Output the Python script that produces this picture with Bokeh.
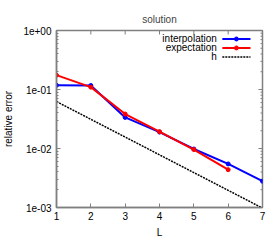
import math
from bokeh.plotting import figure
from bokeh.models import FixedTicker
from bokeh.core.properties import value
from bokeh.embed import file_html
from bokeh.resources import INLINE

L = [1, 2, 3, 4, 5, 6, 7]
interpolation = [0.118, 0.117, 0.0336, 0.0190, 0.0098, 0.00548, 0.00279]
L_exp = [1, 2, 3, 4, 5, 6]
expectation = [0.175, 0.1096, 0.0384, 0.0193, 0.0096, 0.00438]
h = [0.0625, 0.03125, 0.015625, 0.0078125, 0.00390625, 0.001953125, 0.0009765625]

y_major = [1e-3, 1e-2, 1e-1, 1.0]
y_labels = ["1e-03", "1e-02", "1e-01", "1e+00"]
y_minor = [m * d for d in [1e-3, 1e-2, 1e-1] for m in range(2, 10)]
x_ticks = [1, 2, 3, 4, 5, 6, 7]

legend_names = ["interpolation", "expectation", "h"]
legend_colors = ["#0000ff", "#ff0000", "#000000"]

FONT = "Liberation Sans"
GRAY = "#808080"

p = figure(width=280, height=240, x_range=(1, 7), y_range=(1e-3, 1.0),
           y_axis_type="log", output_backend="svg", toolbar_location=None,
           title="solution", min_border_left=55, min_border_right=18,
           min_border_top=30, min_border_bottom=32)
p.title.align = "center"
p.title.vertical_align = "middle"
p.title.text_font = FONT
p.title.text_font_size = "10px"
p.title.text_font_style = "normal"
p.title.standoff = 10
p.title.offset = 0
p.grid.visible = False
p.outline_line_color = GRAY
p.outline_line_width = 1.5
p.background_fill_color = "white"

ylabels = {t: s for t, s in zip(y_major, y_labels)}

def style_axis(ax):
    ax.axis_line_color = GRAY
    ax.axis_line_width = 1.5
    ax.major_tick_in = 4
    ax.major_tick_out = 0
    ax.minor_tick_in = 2
    ax.minor_tick_out = 0
    ax.major_tick_line_color = GRAY
    ax.minor_tick_line_color = GRAY
    ax.major_label_text_font = FONT
    ax.major_label_text_font_size = "10px"
    ax.major_label_text_color = "black"
    ax.major_label_standoff = 5
    ax.axis_label_text_font = FONT
    ax.axis_label_text_font_size = "10px"
    ax.axis_label_text_font_style = "normal"
    ax.axis_label_text_color = "black"

p.xaxis.ticker = FixedTicker(ticks=x_ticks, minor_ticks=[])
p.yaxis.ticker = FixedTicker(ticks=y_major, minor_ticks=y_minor)
p.yaxis.major_label_overrides = ylabels
p.xaxis.axis_label = "L"
p.yaxis.axis_label = "relative error"
style_axis(p.xaxis[0])
style_axis(p.yaxis[0])
p.xaxis.major_label_standoff = 4
p.xaxis.axis_label_standoff = 4
p.yaxis.axis_label_standoff = 6

# mirrored inward ticks on the right and top edges of the frame
p.ray(x=[7] * len(y_major), y=y_major, length=4, length_units="screen",
      angle=math.pi, line_color=GRAY, line_width=1)
p.ray(x=[7] * len(y_minor), y=y_minor, length=2, length_units="screen",
      angle=math.pi, line_color=GRAY, line_width=1)
p.ray(x=x_ticks, y=[1.0] * len(x_ticks), length=4, length_units="screen",
      angle=-math.pi / 2, line_color=GRAY, line_width=1)

p.line(L, interpolation, line_color=legend_colors[0], line_width=2)
p.scatter(L, interpolation, size=4, color=legend_colors[0])
p.line(L_exp, expectation, line_color=legend_colors[1], line_width=2)
p.scatter(L_exp, expectation, size=4, color=legend_colors[1])
p.line(L, h, line_color=legend_colors[2], line_width=1.5, line_dash="2 1")

# legend (gnuplot style: text right-aligned, sample on the right)
leg_y = [0.718, 0.506, 0.356]
p.text([5.67] * 3, leg_y, text=legend_names, text_align="right",
       text_baseline="middle", text_font=value(FONT), text_font_size="10px",
       text_color="black")
for i in range(3):
    dash = "2 1" if i == 2 else "solid"
    lw = 1.5 if i == 2 else 2
    p.line([5.83, 6.65], [leg_y[i]] * 2, line_color=legend_colors[i],
           line_width=lw, line_dash=dash)
    if i < 2:
        p.scatter([6.24], [leg_y[i]], size=4, color=legend_colors[i])

open("out.html", "w").write(file_html(p, INLINE))
